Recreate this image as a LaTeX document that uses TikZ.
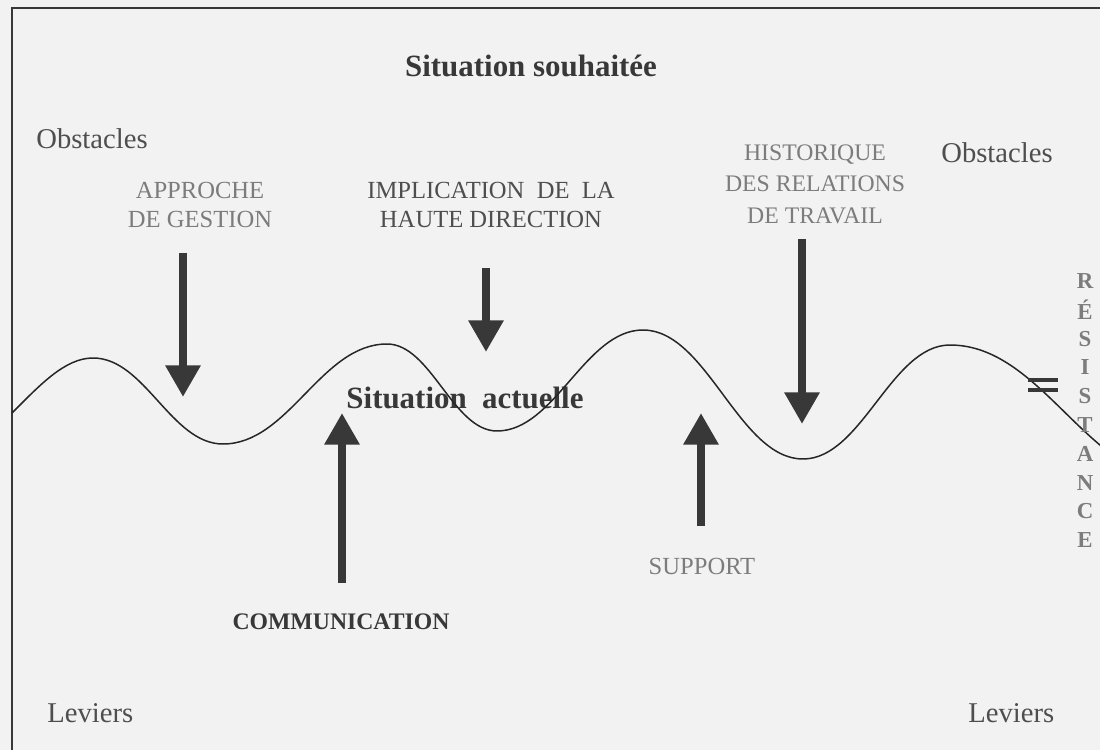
\documentclass[tikz,border=0pt]{standalone}
\usepackage{fontspec}
\setmainfont{Liberation Serif}
\usetikzlibrary{arrows.meta}

\definecolor{inkgray}{HTML}{383838}
\definecolor{midgray}{HTML}{4E4E4E}
\definecolor{labelgray}{HTML}{7C7C7C}
\definecolor{papergray}{HTML}{F2F2F2}

\begin{document}
\begin{tikzpicture}[x=0.02cm, y=-0.02cm,
    headline/.style={color=inkgray, font=\bfseries\fontsize{17.6}{21}\selectfont},
    sidenote/.style={color=midgray, anchor=west, inner xsep=0pt, font=\fontsize{16.3}{19}\selectfont},
    force/.style={align=center, color=labelgray, font=\fontsize{14}{17}\selectfont},
    letter/.style={color=labelgray, font=\bfseries\fontsize{13}{15}\selectfont},
    push/.style={line width=4.5pt, color=inkgray, -{Triangle[width=19pt, length=18pt]}},
    wave/.style={line width=0.85pt, color=black!85}]
  \pgfmathsetmacro{\resgap}{28.8}

  \useasboundingbox (0,0) rectangle (1100,750);
  \fill [papergray] (0,0) rectangle (1100,750);
  \clip (0,0) rectangle (1100,750);
  \draw [color=inkgray, line width=1.1pt] (12,800) -- (12,8) -- (1150,8);

  % titres
  \node [headline] (souhaitee) at (531,66) {Situation souhaitée};
  \node [headline] (actuelle) at (465,398) {Situation~ actuelle};
  \node [sidenote] (obst-l) at (36,139) {Obstacles};
  \node [sidenote] (obst-r) at (941,153) {Obstacles};
  \node [sidenote] (lev-l) at (47,713) {Leviers};
  \node [sidenote] (lev-r) at (968,713) {Leviers};

  % obstacles
  \node [force] (gestion) at (200,205) {APPROCHE\\DE GESTION};
  \node [force, color=midgray] (direction) at (491,205) {IMPLICATION~ DE~ LA\\HAUTE DIRECTION};
  \node [force, font=\fontsize{13.5}{18}\selectfont] (historique) at (815,184)
    {HISTORIQUE\\DES RELATIONS\\DE TRAVAIL};

  % leviers
  \node [headline, font=\bfseries\fontsize{13.5}{16}\selectfont] (communication) at (341,622)
    {COMMUNICATION};
  \node [force] (support) at (702,566) {SUPPORT};

  % la vague
  \draw [wave] (12,413) .. controls (40,385) and (65,358) .. (93,358)
    .. controls (145,358) and (171,444) .. (223,444)
    .. controls (289,444) and (321,344) .. (387,344)
    .. controls (431,344) and (453,431) .. (497,431)
    .. controls (555,431) and (585,330) .. (643,330)
    .. controls (707,330) and (739,459) .. (803,459)
    .. controls (862,459) and (891,345) .. (950,345)
    .. controls (1042,345) and (1088,480) .. (1180,480);

  % fleches
  \coordinate (gestion-from) at (183,253);
  \coordinate (gestion-to) at (183,397);
  \coordinate (direction-from) at (486,268);
  \coordinate (direction-to) at (486,352);
  \coordinate (historique-from) at (802,239);
  \coordinate (historique-to) at (802,424);
  \coordinate (communication-from) at (342,583);
  \coordinate (communication-to) at (342,413);
  \coordinate (support-from) at (701,526);
  \coordinate (support-to) at (701,413);

  \foreach \f in {gestion, direction, historique, communication, support} {%
    \draw [push] (\f-from) -- (\f-to);%
  }%

  % resistance
  \draw [color=inkgray, line width=2pt] (1028,380) -- (1058,380)
    (1028,390) -- (1058,390);
  \foreach \c [count=\i from 0] in {R,É,S,I,S,T,A,N,C,E} {%
    \node [letter] (res-\i) at (1085, {281+\resgap*\i}) {\c};%
  }%
\end{tikzpicture}
\end{document}
